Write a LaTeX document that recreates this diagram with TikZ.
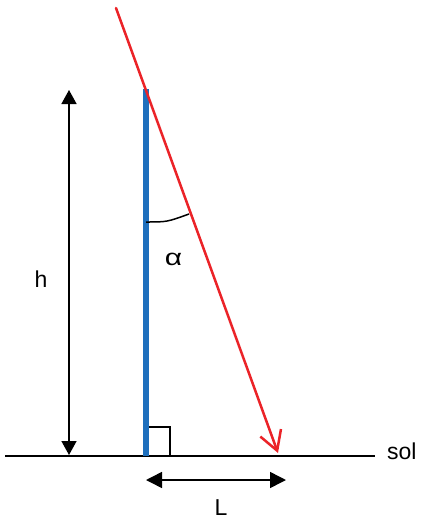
\documentclass[tikz,border=0pt]{standalone}
\usepackage{fontspec}
\setmainfont{Liberation Sans}
\usetikzlibrary{arrows.meta}
\definecolor{poleblue}{RGB}{30,111,189}
\definecolor{rayred}{RGB}{235,35,40}
\begin{document}
\begin{tikzpicture}[x=1pt,y=-1pt,
  lbl/.style={font=\fontsize{23}{26}\selectfont, inner sep=0pt},
  dim/.style={line width=1.5pt, {Triangle[length=14pt,width=15pt]}-{Triangle[length=14pt,width=15pt]}},
  thinline/.style={line width=1.5pt, black}]
\useasboundingbox (0,0) rectangle (421,519);
% coordinates
\coordinate (g1) at (5,456);
\coordinate (g2) at (375,456);
\coordinate (ptop) at (146,89);
\coordinate (pbot) at (146,456);
\coordinate (r1) at (116,8);
\coordinate (r2) at (278,453);
\coordinate (h1) at (69,90);
\coordinate (h2) at (69,455);
\coordinate (l1) at (146,480);
\coordinate (l2) at (286,480);
\coordinate (sq1) at (146,427);
\coordinate (sq2) at (170,427);
\coordinate (sq3) at (170,456);
\coordinate (a1) at (146,222);
\coordinate (a2) at (189,214);
% ground
\draw[line width=2pt] (g1) -- (g2);
\node[lbl, anchor=west] (sol) at (387,451) {sol};
% right angle
\draw[thinline] (sq1) -- (sq2) -- (sq3);
% pole
\draw[poleblue, line width=6pt] (ptop) -- (pbot);
% ray
\draw[rayred, line width=2.5pt, line cap=round, -{Straight Barb[length=19pt,width=22pt,line width=2.5pt]}] (r1) -- (r2);
% angle arc
\draw[thinline] (a1) .. controls (167,222) .. (a2);
\node[lbl] (alpha) at (173.5,259) {\scalebox{1.3}[1]{α}};
% h dimension
\draw[dim] (h1) -- (h2);
\node[lbl] (h) at (41,279) {h};
% L dimension
\draw[dim, {Triangle[length=16pt,width=16pt]}-{Triangle[length=16pt,width=16pt]}] (l1) -- (l2);
\node[lbl] (L) at (221,508) {L};
\end{tikzpicture}
\end{document}
